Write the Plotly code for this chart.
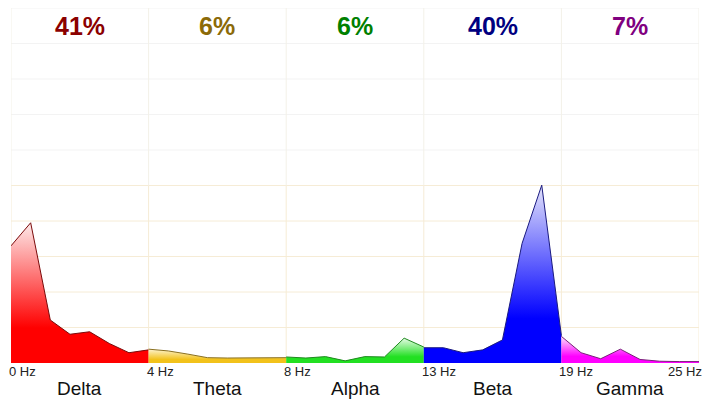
import plotly.graph_objects as go

bands = ["Delta", "Theta", "Alpha", "Beta", "Gamma"]
percents = ["41%", "6%", "6%", "40%", "7%"]
tick_labels = ["0 Hz", "4 Hz", "8 Hz", "13 Hz", "19 Hz", "25 Hz"]

delta = [33.0, 39.5, 12.1, 8.1, 8.8, 5.5, 2.9, 3.7]
theta = [3.9, 3.4, 2.5, 1.5, 1.4, 1.4, 1.4, 1.5]
alpha = [1.7, 1.4, 1.8, 0.6, 1.8, 1.7, 7.0, 4.5]
beta = [4.3, 4.3, 2.9, 3.7, 6.5, 33.7, 50.1, 7.7]
gamma = [7.5, 2.9, 1.2, 3.9, 1.0, 0.5, 0.4, 0.4]
series = [delta, theta, alpha, beta, gamma]

fill_colors = ["#ff0000", "#f2c21b", "#22e022", "#0000ff", "#ff00ff"]
top_colors = ["#fdeaea", "#fdf3d0", "#e6fbe6", "#e4e4fb", "#fde6fd"]
line_colors = ["#7a0a0a", "#8a7020", "#1f8a1f", "#1a1a80", "#7a207a"]
label_colors = ["#8b0000", "#8b6a08", "#008000", "#000080", "#800080"]

fig = go.Figure()

# grid shapes
for k in range(1, 11):
    col = "#f6ecd6" if k <= 5 else "#f3f3f3"
    fig.add_shape(type="line", x0=0, x1=5, y0=k * 10, y1=k * 10, xref="x", yref="y",
                  line=dict(color=col, width=1), layer="below")
for b in range(0, 6):
    fig.add_shape(type="line", x0=b, x1=b, y0=0, y1=50, xref="x", yref="y",
                  line=dict(color="#f6ecd6", width=1), layer="below")
    fig.add_shape(type="line", x0=b, x1=b, y0=50, y1=100, xref="x", yref="y",
                  line=dict(color="#f3f1e8", width=1), layer="below")

for i, vals in enumerate(series):
    n = len(vals)
    xs = [i + j / (n - 1) for j in range(n)]
    fig.add_trace(go.Scatter(
        x=xs, y=vals, mode="lines", fill="tozeroy",
        line=dict(color=line_colors[i], width=1),
        fillgradient=dict(type="vertical", start=0, stop=max(vals),
                          colorscale=[[0, fill_colors[i]], [0.25, fill_colors[i]], [1, top_colors[i]]]),
        showlegend=False, hoverinfo="skip",
    ))

font_family = "Liberation Sans, Arial"
for i, p in enumerate(percents):
    fig.add_annotation(x=i + 0.5, y=94.8, xref="x", yref="y", text="<b>" + p + "</b>",
                       showarrow=False, xanchor="center", yanchor="middle",
                       font=dict(family=font_family, size=25, color=label_colors[i]))
    fig.add_annotation(x=i + 0.5, y=-0.073, xref="x", yref="paper", text=bands[i],
                       showarrow=False, xanchor="center", yanchor="middle",
                       font=dict(family=font_family, size=19, color="#111111"))

for b, t in enumerate(tick_labels):
    last = b == len(tick_labels) - 1
    fig.add_annotation(x=b, y=-0.024, xref="x", yref="paper", text=t, showarrow=False,
                       xanchor="right" if last else "left", yanchor="middle",
                       xshift=5 if last else -4,
                       font=dict(family=font_family, size=13, color="#222222"))

fig.update_layout(
    width=705, height=405,
    margin=dict(l=11, r=6, t=8, b=42, autoexpand=False),
    paper_bgcolor="white", plot_bgcolor="white",
    xaxis=dict(range=[0, 5], visible=False, fixedrange=True),
    yaxis=dict(range=[0, 100], visible=False, fixedrange=True),
)

fig.write_html("out.html", config={"displayModeBar": False},
               post_script="document.body.style.margin='0px';document.body.style.overflow='hidden';")
